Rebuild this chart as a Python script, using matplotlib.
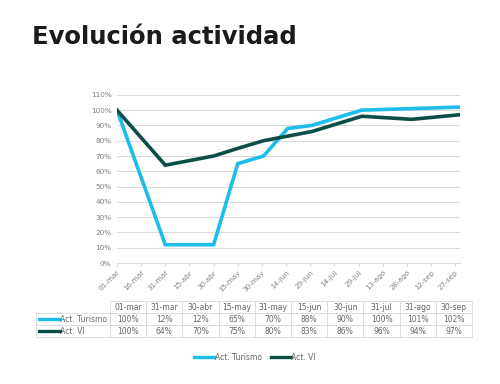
import matplotlib
matplotlib.use("Agg")
import matplotlib.pyplot as plt
from matplotlib.lines import Line2D
import pandas as pd

# ---- data ----
dates = ["2020-03-01", "2020-03-31", "2020-04-30", "2020-05-15", "2020-05-31",
         "2020-06-15", "2020-06-30", "2020-07-31", "2020-08-31", "2020-09-30"]
date_labels = ["01-mar", "31-mar", "30-abr", "15-may", "31-may",
               "15-jun", "30-jun", "31-jul", "31-ago", "30-sep"]
turismo = [100, 12, 12, 65, 70, 88, 90, 100, 101, 102]
vi = [100, 64, 70, 75, 80, 83, 86, 96, 94, 97]
series_names = ["Act. Turismo", "Act. VI"]
month_abbr = ["ene", "feb", "mar", "abr", "may", "jun", "jul", "ago", "sep", "oct", "nov", "dic"]
title = "Evolución actividad"

c_tur = "#1CBDEA"
c_vi = "#0C4D47"
grey_txt = "#808080"
grid_c = "#D9D9D9"

x = pd.to_datetime(dates)

fig = plt.figure(figsize=(5.0, 3.84), dpi=100)
fig.patch.set_facecolor("white")

fig.text(0.064, 0.885, title, fontsize=17.5, fontweight="bold", color="#1a1a1a",
         family="DejaVu Sans", ha="left", va="baseline")

ax = fig.add_axes([0.234, 0.315, 0.686, 0.438])
ax.plot(x, [v / 100 for v in turismo], color=c_tur, lw=2.6, solid_joinstyle="miter")
ax.plot(x, [v / 100 for v in vi], color=c_vi, lw=2.6, solid_joinstyle="miter")

ax.set_ylim(0, 1.1)
ax.set_xlim(x[0], x[-1])
ax.set_yticks([i / 10 for i in range(12)])
ax.set_yticklabels([f"{i*10}%" for i in range(12)])
ticks = pd.date_range(x[0], x[-1], freq="15D")
ax.set_xticks(ticks)
ax.set_xticklabels([f"{d.day:02d}-{month_abbr[d.month-1]}" for d in ticks],
                   rotation=45, ha="right", rotation_mode="anchor")
ax.grid(axis="y", color=grid_c, lw=0.7)
ax.set_axisbelow(True)
for s in ["top", "right", "left"]:
    ax.spines[s].set_visible(False)
ax.spines["bottom"].set_color(grid_c)
ax.spines["bottom"].set_linewidth(0.7)
ax.tick_params(axis="y", length=0, labelsize=5.2, labelcolor=grey_txt, pad=4)
ax.tick_params(axis="x", length=2.5, color=grid_c, labelsize=5.2, labelcolor=grey_txt, pad=2)

# ---- data table ----
tax = fig.add_axes([0.072, 0.122, 0.872, 0.094])
tax.axis("off")
tax.set_xlim(0, 1)
tax.set_ylim(0, 1)
label_w = 0.17
col_w = (1 - label_w) / len(date_labels)
cell_text = [[series_names[0]] + [f"{v}%" for v in turismo],
             [series_names[1]] + [f"{v}%" for v in vi]]
tbl = tax.table(cellText=cell_text, colLabels=[""] + date_labels,
                colWidths=[label_w] + [col_w] * len(date_labels),
                cellLoc="center", bbox=[0, 0, 1, 1])
tbl.auto_set_font_size(False)
for (r, c), cell in tbl.get_celld().items():
    cell.set_edgecolor(grid_c)
    cell.set_linewidth(0.6)
    cell.get_text().set_fontsize(5.5)
    cell.get_text().set_color("#666666")
    if c == 0:
        cell._loc = "left"
        cell.get_text().set_ha("left")
        cell.PAD = 0.33
        if r == 0:
            cell.visible_edges = ""
for i, col in enumerate([c_tur, c_vi]):
    yy = (1.5 - i) / 3
    tax.add_line(Line2D([0.006, 0.054], [yy, yy], color=col, lw=2.4))

# ---- legend ----
handles = [Line2D([], [], color=c_tur, lw=2.4), Line2D([], [], color=c_vi, lw=2.4)]
fig.legend(handles, series_names, loc="center", bbox_to_anchor=(0.51, 0.07),
           ncol=2, frameon=False, fontsize=5.5, labelcolor="#666666",
           handlelength=2.6, handletextpad=0.1, columnspacing=1.2)

fig.savefig("out.png", dpi=100, facecolor="white")
